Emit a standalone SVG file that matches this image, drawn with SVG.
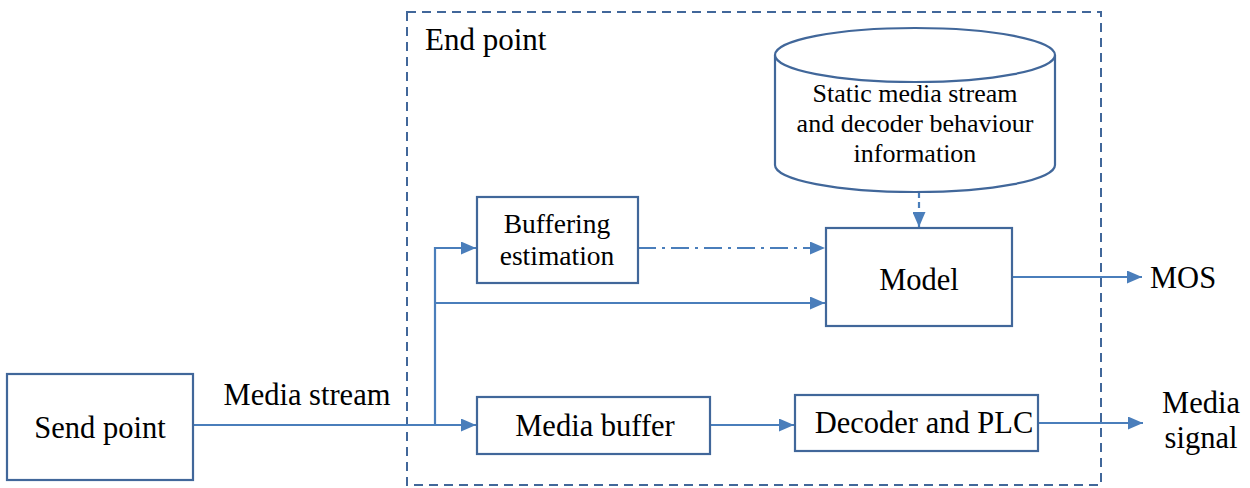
<svg xmlns="http://www.w3.org/2000/svg" width="1250" height="488" viewBox="0 0 1250 488">
  <style>
    .box { fill: #ffffff; stroke: #41679A; stroke-width: 2.2; }
    .frame { fill: none; stroke: #41679A; stroke-width: 2; stroke-dasharray: 9 6; }
    .link { fill: none; stroke: #4A7EBB; stroke-width: 2.2; }
    .txt { font-family: "Liberation Serif", "Times New Roman", serif; fill: #000000; }
  </style>
  <defs>
    <marker id="arrow" viewBox="0 0 15 13" refX="15" refY="6.5" markerWidth="15" markerHeight="13" markerUnits="userSpaceOnUse" orient="auto">
      <path d="M0,0 L15,6.5 L0,13 Z" fill="#4A7EBB"/>
    </marker>
  </defs>

  <rect class="frame" x="407" y="12" width="694" height="473"/>
  <text class="txt" x="425" y="50" font-size="31">End point</text>

  <g id="connectors">
    <path class="link" d="M193,425 L476,425" marker-end="url(#arrow)"/>
    <path class="link" d="M435,425 L435,248 L476,248" marker-end="url(#arrow)"/>
    <path class="link" d="M435,303 L825,303" marker-end="url(#arrow)"/>
    <path class="link" d="M638,248 L825,248" stroke-dasharray="18 6 3 6" marker-end="url(#arrow)"/>
    <path class="link" d="M919,192 L919,227" stroke-dasharray="6 4" marker-end="url(#arrow)"/>
    <path class="link" d="M1012,277 L1142,277" marker-end="url(#arrow)"/>
    <path class="link" d="M710,425 L794,425" marker-end="url(#arrow)"/>
    <path class="link" d="M1038,423 L1143,423" marker-end="url(#arrow)"/>
  </g>

  <g id="send-point">
    <rect class="box" x="7" y="374" width="186" height="106"/>
    <text class="txt" x="100" y="438" font-size="30.5" text-anchor="middle">Send point</text>
  </g>
  <text class="txt" x="307" y="405" font-size="30.5" text-anchor="middle">Media stream</text>

  <g id="buffering-estimation">
    <rect class="box" x="477" y="197" width="161" height="86"/>
    <text class="txt" x="557" y="233" font-size="27.5" text-anchor="middle">Buffering</text>
    <text class="txt" x="557" y="265" font-size="27.5" text-anchor="middle">estimation</text>
  </g>

  <g id="static-info">
    <path class="box" d="M775,55 L775,165 A140,27 0 0 0 1055,165 L1055,55"/>
    <ellipse class="box" cx="915" cy="55" rx="140" ry="27"/>
    <text class="txt" x="915" y="102" font-size="26" text-anchor="middle">Static media stream</text>
    <text class="txt" x="915" y="132" font-size="26" text-anchor="middle">and decoder behaviour</text>
    <text class="txt" x="915" y="162" font-size="26" text-anchor="middle">information</text>
  </g>

  <g id="model">
    <rect class="box" x="826" y="228" width="186" height="98"/>
    <text class="txt" x="919" y="290" font-size="30.5" text-anchor="middle">Model</text>
  </g>
  <text class="txt" x="1150" y="288" font-size="30.5">MOS</text>

  <g id="media-buffer">
    <rect class="box" x="477" y="397" width="233" height="57"/>
    <text class="txt" x="595" y="436" font-size="30.5" text-anchor="middle">Media buffer</text>
  </g>

  <g id="decoder-plc">
    <rect class="box" x="795" y="395" width="243" height="56"/>
    <text class="txt" x="924" y="433" font-size="30.5" text-anchor="middle">Decoder and PLC</text>
  </g>
  <text class="txt" x="1201" y="413" font-size="30.5" text-anchor="middle">Media</text>
  <text class="txt" x="1201" y="448" font-size="30.5" text-anchor="middle">signal</text>
</svg>
